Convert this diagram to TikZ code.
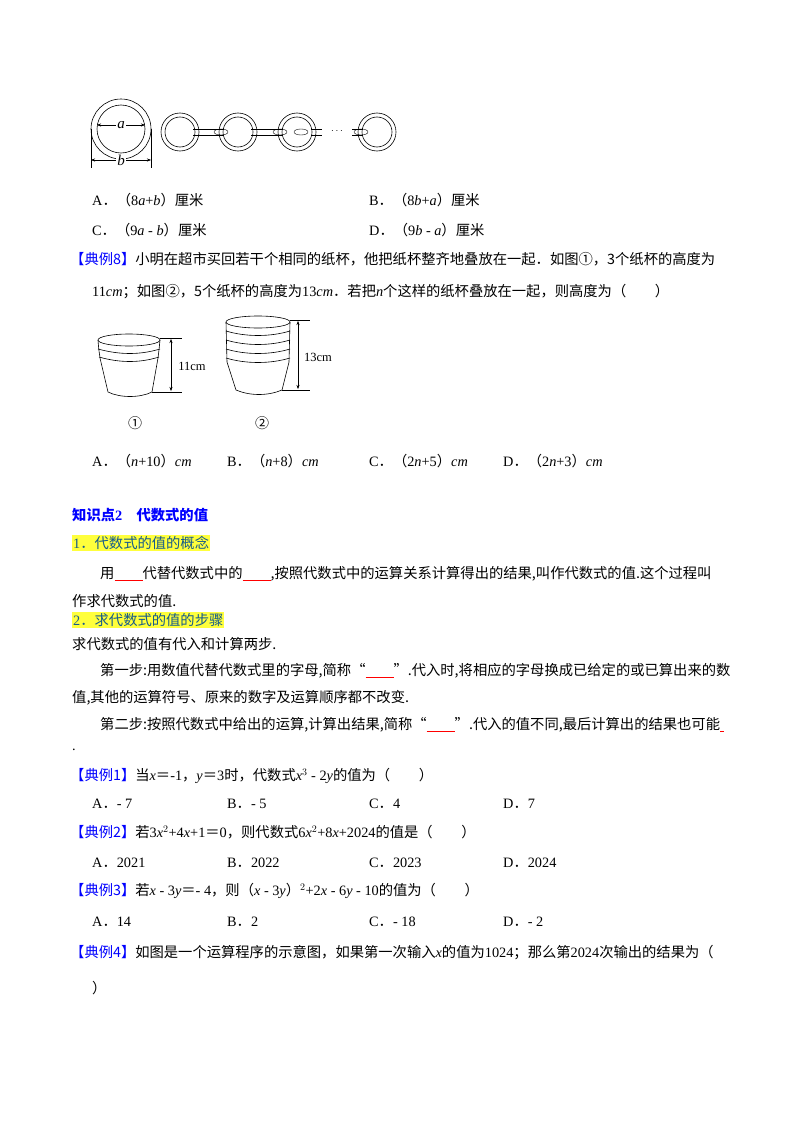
\documentclass[tikz,border=0pt]{standalone}
\usepackage{fontspec}
\setmainfont{Liberation Serif}
\newfontfamily\cjk{Noto Sans CJK SC}
\newcommand\zh[1]{{\cjk #1}}
\newcommand\blank[1][28pt]{\textcolor{red}{\rule[-2.5pt]{#1}{1.1pt}}}
\newcommand\dl[1]{\textcolor{blue}{\zh{【#1】}}}
\newcommand\dt{\zh{．}}
\definecolor{hlc}{RGB}{255,255,60}
\definecolor{tealc}{RGB}{20,90,140}
\usetikzlibrary{arrows.meta}
\begin{document}
\begin{tikzpicture}[x=1pt,y=-1pt,
 t/.style={anchor=west,inner sep=0pt,font=\fontsize{14.3}{16}\selectfont},
 hd/.style={t,fill=hlc,inner sep=1pt,text=tealc},
 dim/.style={thin,{Stealth[length=4pt]}-{Stealth[length=4pt]}},
 lw/.style={line width=0.6pt},
 lab/.style={fill=white,inner sep=1pt,font=\fontsize{15}{17}\selectfont\itshape}]
\useasboundingbox[fill=white] (0,0) rectangle (800,1132);
% rings
\draw[lw] (121,129) circle (30) (121,129) circle (24);
\draw[dim] (97,125) -- node[lab]{a} (145,125);
\draw[thin] (91,129) -- (91,168) (151,129) -- (151,168);
\draw[dim] (91,160) -- node[lab]{b} (151,160);
\foreach \x in {180,238,297,377}{\draw[lw] (\x,132) circle (19) (\x,132) circle (15);}
\foreach \a/\b in {180/238,238/297}{
 \draw[thin] (\a+13,129) -- (\b-14,129) (\a+13,135) -- (\b-14,135);
 \draw[thin] (\b-17,132) ellipse (7 and 3);}
\draw[thin] (311,129) -- (322,129) (311,135) -- (322,135);
\draw[thin] (301,132) ellipse (7 and 3);
\node[inner sep=0pt] (dots) at (337,131) {$\cdots$};
\draw[thin] (352,129) -- (363,129) (352,135) -- (363,135);
\draw[thin] (361,132) ellipse (7 and 3);
% options
\node[t] (a1) at (92,200) {A\dt\zh{（}8\textit{a}+\textit{b}\zh{）厘米}};
\node[t] (b1) at (369,200) {B\dt\zh{（}8\textit{b}+\textit{a}\zh{）厘米}};
\node[t] (c1) at (92,230) {C\dt\zh{（}9\textit{a} - \textit{b}\zh{）厘米}};
\node[t] (d1) at (369,230) {D\dt\zh{（}9\textit{b} - \textit{a}\zh{）厘米}};
\node[t] (e8) at (70,259) {\dl{典例8}\zh{小明在超市买回若干个相同的纸杯，他把纸杯整齐地叠放在一起．如图①，3个纸杯的高度为}};
\node[t] (e8b) at (92,292) {11\textit{cm}\zh{；如图②，5个纸杯的高度为}13\textit{cm}\zh{．若把}\textit{n}\zh{个这样的纸杯叠放在一起，则高度为（\quad\quad）}};
% cups
\draw[lw] (98,340) .. controls (99,354) and (100,356) .. (100,358) -- (108,392) .. controls (120,398) and (140,398) .. (152,392) -- (158,358) .. controls (159,350) .. (160,340);
\draw[lw] (129,340) ellipse (31 and 6);
\draw[lw] (98,349) .. controls (120,355) and (140,355) .. (160,349);
\draw[lw] (99,357) .. controls (120,363) and (140,363) .. (159,357);
\draw[thin] (160,338) -- (182,338) (152,392) -- (182,392);
\draw[dim] (171,339) -- (171,391);
\node[inner sep=0pt,font=\fontsize{12.5}{14}\selectfont] (l11) at (192,366) {11cm};
\draw[lw] (226,322) -- (227,362) -- (236,390) .. controls (250,396) and (268,396) .. (282,390) -- (289,362) -- (290,322);
\draw[lw] (258,322) ellipse (32 and 6);
\foreach \y in {331,340,349,358}{\draw[lw] (226,\y) .. controls (246,\y+6) and (270,\y+6) .. (290,\y);}
\draw[thin] (290,320) -- (310,320) (282,390) -- (310,390);
\draw[dim] (298,321) -- (298,389);
\node[inner sep=0pt,font=\fontsize{12.5}{14}\selectfont] (l13) at (318,357) {13cm};
\node[inner sep=0pt,font=\fontsize{14}{16}\selectfont] (n1) at (135,423) {\zh{①}};
\node[inner sep=0pt,font=\fontsize{14}{16}\selectfont] (n2) at (262,423) {\zh{②}};
\node[t] (a2) at (92,461) {A\dt\zh{（}\textit{n}+10\zh{）}\textit{cm}};
\node[t] (b2) at (227,461) {B\dt\zh{（}\textit{n}+8\zh{）}\textit{cm}};
\node[t] (c2) at (369,461) {C\dt\zh{（}2\textit{n}+5\zh{）}\textit{cm}};
\node[t] (d2) at (503,461) {D\dt\zh{（}2\textit{n}+3\zh{）}\textit{cm}};
% section
\node[t,text=blue,font=\fontsize{14.3}{16}\selectfont\bfseries] (k2) at (72,515) {\zh{知识点}2\quad\zh{代数式的值}};
\node[hd] (h1) at (72,543) {1\dt\zh{代数式的值的概念}};
\node[t] (p1) at (100,574) {\zh{用}\blank\zh{代替代数式中的}\blank\zh{,按照代数式中的运算关系计算得出的结果,叫作代数式的值.这个过程叫}};
\node[t] (p1b) at (72,601) {\zh{作求代数式的值.}};
\node[hd] (h2) at (72,620) {2\dt\zh{求代数式的值的步骤}};
\node[t] (p2) at (72,644) {\zh{求代数式的值有代入和计算两步.}};
\node[t] (p3) at (100,671) {\zh{第一步:用数值代替代数式里的字母,简称“}\blank\zh{”.代入时,将相应的字母换成已给定的或已算出来的数}};
\node[t] (p3b) at (72,698) {\zh{值,其他的运算符号、原来的数字及运算顺序都不改变.}};
\node[t] (p4) at (100,725) {\zh{第二步:按照代数式中给出的运算,计算出结果,简称“}\blank\zh{”.代入的值不同,最后计算出的结果也可能}\blank[4pt]};
\node[t] (p4b) at (72,750) {.};
% examples
\node[t] (e1) at (70,776) {\dl{典例1}\zh{当}\textit{x}\zh{＝}-1\zh{，}\textit{y}\zh{＝}3\zh{时，代数式}\textit{x}$^3$ - 2\textit{y}\zh{的值为（\quad\quad）}};
\node[t] (e1a) at (92,804) {A\dt- 7};
\node[t] (e1b) at (227,804) {B\dt- 5};
\node[t] (e1c) at (369,804) {C\dt4};
\node[t] (e1d) at (503,804) {D\dt7};
\node[t] (e2) at (70,832) {\dl{典例2}\zh{若}3\textit{x}$^2$+4\textit{x}+1\zh{＝}0\zh{，则代数式}6\textit{x}$^2$+8\textit{x}+2024\zh{的值是（\quad\quad）}};
\node[t] (e2a) at (92,863) {A\dt2021};
\node[t] (e2b) at (227,863) {B\dt2022};
\node[t] (e2c) at (369,863) {C\dt2023};
\node[t] (e2d) at (503,863) {D\dt2024};
\node[t] (e3) at (70,891) {\dl{典例3}\zh{若}\textit{x} - 3\textit{y}\zh{＝}- 4\zh{，则（}\textit{x} - 3\textit{y}\zh{）}$^2$+2\textit{x} - 6\textit{y} - 10\zh{的值为（\quad\quad）}};
\node[t] (e3a) at (92,922) {A\dt14};
\node[t] (e3b) at (227,922) {B\dt2};
\node[t] (e3c) at (369,922) {C\dt- 18};
\node[t] (e3d) at (503,922) {D\dt- 2};
\node[t] (e4) at (70,953) {\dl{典例4}\zh{如图是一个运算程序的示意图，如果第一次输入}\textit{x}\zh{的值为}1024\zh{；那么第}2024\zh{次输出的结果为（}};
\node[t] (e4b) at (92,988) {\zh{）}};
\end{tikzpicture}
\end{document}
